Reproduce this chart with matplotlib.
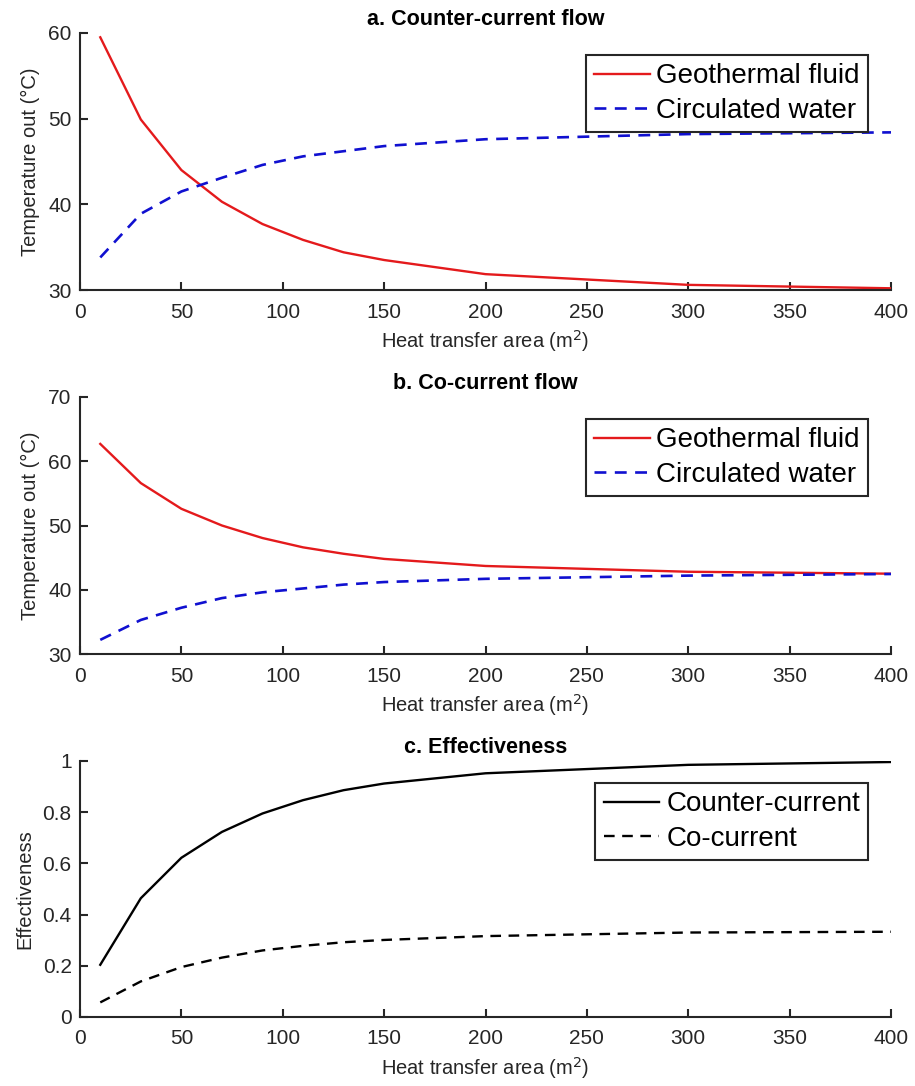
import matplotlib
matplotlib.use("Agg")
import matplotlib.pyplot as plt

plt.rcParams['font.family'] = ['Liberation Sans', 'DejaVu Sans']

area = [10, 30, 50, 70, 90, 110, 130, 150, 200, 300, 400]

counter_geo = [59.5, 49.9, 44.0, 40.3, 37.7, 35.85, 34.4, 33.5, 31.85, 30.6, 30.2]
counter_water = [33.8, 38.9, 41.5, 43.1, 44.6, 45.6, 46.2, 46.8, 47.6, 48.2, 48.4]

co_geo = [62.7, 56.6, 52.6, 50.0, 48.05, 46.6, 45.6, 44.8, 43.7, 42.8, 42.5]
co_water = [32.2, 35.3, 37.2, 38.7, 39.6, 40.2, 40.8, 41.2, 41.7, 42.2, 42.45]

eff_counter = [0.204, 0.464, 0.622, 0.723, 0.795, 0.847, 0.886, 0.912, 0.952, 0.985, 0.996]
eff_co = [0.057, 0.139, 0.195, 0.232, 0.260, 0.278, 0.292, 0.301, 0.316, 0.330, 0.333]

titles = ['a. Counter-current flow', 'b. Co-current flow', 'c. Effectiveness']
xlabel = 'Heat transfer area (m$^2$)'
ylabels = ['Temperature out (°C)', 'Temperature out (°C)', 'Effectiveness']

W, H = 915, 1086
fig = plt.figure(figsize=(W / 100, H / 100), dpi=100)

left, right = 80, 891
boxes = [(33, 290), (397, 654), (761, 1017)]
axes = []
for top, bot in boxes:
    ax = fig.add_axes([left / W, 1 - bot / H, (right - left) / W, (bot - top) / H])
    axes.append(ax)

dash = (0, (4.5, 3.2))
tick_col = '#262626'

ax = axes[0]
ax.plot(area, counter_geo, color='#e41a1c', lw=1.7, label='Geothermal fluid')
ax.plot(area, counter_water, color='#1010d0', lw=1.9, ls=dash, label='Circulated water')
ax.set_ylim(30, 60)
ax.set_yticks([30, 40, 50, 60])

ax = axes[1]
ax.plot(area, co_geo, color='#e41a1c', lw=1.7, label='Geothermal fluid')
ax.plot(area, co_water, color='#1010d0', lw=1.9, ls=dash, label='Circulated water')
ax.set_ylim(30, 70)
ax.set_yticks([30, 40, 50, 60, 70])

ax = axes[2]
ax.plot(area, eff_counter, color='black', lw=1.7, label='Counter-current')
ax.plot(area, eff_co, color='black', lw=1.7, ls=dash, label='Co-current')
ax.set_ylim(0, 1)
ax.set_yticks([0, 0.2, 0.4, 0.6, 0.8, 1])
ax.set_yticklabels(['0', '0.2', '0.4', '0.6', '0.8', '1'])

for i, ax in enumerate(axes):
    ax.set_xlim(0, 400)
    ax.set_xticks(range(0, 401, 50))
    ax.spines['top'].set_visible(False)
    ax.spines['right'].set_visible(False)
    for s in ('left', 'bottom'):
        ax.spines[s].set_linewidth(1.5)
        ax.spines[s].set_color(tick_col)
    ax.tick_params(direction='in', length=6, width=1.5, colors=tick_col,
                   labelsize=15, labelcolor=tick_col)
    ax.tick_params(axis='x', pad=9)
    ax.tick_params(axis='y', pad=6)
    ax.set_xlabel(xlabel, fontsize=14.5, color=tick_col, labelpad=5)
    ax.set_ylabel(ylabels[i], fontsize=14.5, color=tick_col, labelpad=6)
    ax.set_title(titles[i], fontsize=15.5, fontweight='bold', pad=6)
    leg = ax.legend(loc='upper right', bbox_to_anchor=(0.972, 0.914),
                    borderaxespad=0, fontsize=20, handlelength=2.0,
                    handletextpad=0.25, labelspacing=0.3, borderpad=0.3,
                    fancybox=False, framealpha=1, edgecolor=tick_col)
    leg.get_frame().set_linewidth(1.5)

fig.savefig('out.png', dpi=100)
